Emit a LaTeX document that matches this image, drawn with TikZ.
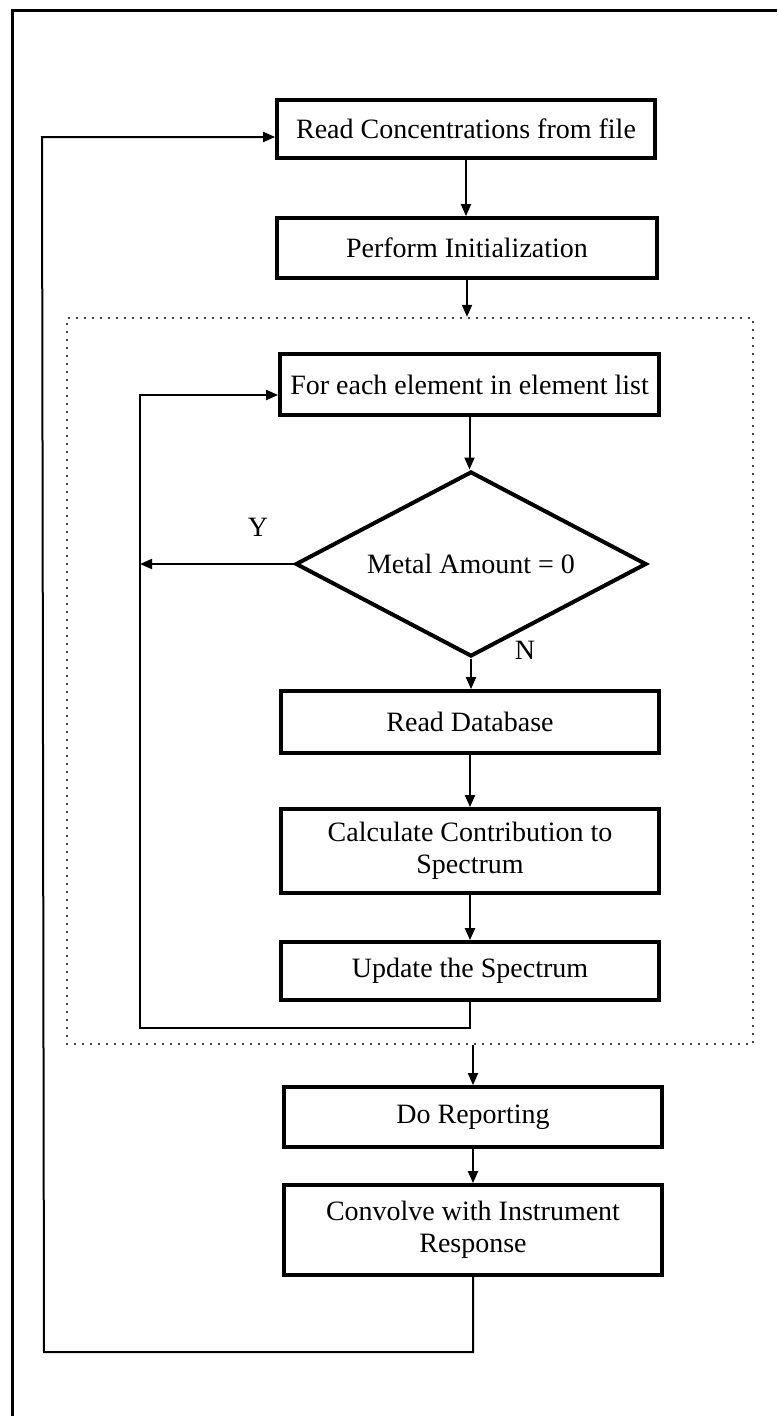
\documentclass[tikz,border=0pt]{standalone}
\usepackage{fontspec}
\setmainfont{Liberation Serif}
\usetikzlibrary{shapes.geometric,arrows.meta}
\begin{document}
\begin{tikzpicture}[x=1pt,y=-1pt,
  txt/.style={font=\fontsize{28}{32}\selectfont},
  box/.style={draw,line width=3.8pt,minimum width=378pt,minimum height=#1,inner sep=2pt,align=center,txt},
  box/.default=60pt,
  dia/.style={diamond,draw,line width=4pt,minimum width=351pt,minimum height=185pt,inner sep=0pt,aspect=1.9,txt},
  grp/.style={draw,line width=2.4pt,dash pattern=on 0pt off 8pt,line cap=round,inner sep=0pt},
  conn/.style={line width=2pt},
  arr/.style={conn,-{Triangle[length=12pt,width=10pt]}},
]
\useasboundingbox (0,0) rectangle (777,1416);
\fill[white] (0,0) rectangle (777,1416);
% outer frame
\draw[line width=3pt] (12,1416) -- (12,10) -- (777,10);
% dotted group
\node[grp,minimum width=686pt,minimum height=726pt] (grp) at (410,681) {};
% nodes
\node[box=58pt] (b1) at (466,129) {Read Concentrations from file};
\node[box=60pt,minimum width=380pt] (b2) at (467,248) {Perform Initialization};
\node[box=61pt,minimum width=379pt] (b3) at (469.5,384.5) {For each element in element list};
\node[dia] (d) at (471,564) {Metal Amount = 0};
\node[box=62pt] (rdb) at (470,722) {Read Database};
\node[box=84pt] (calc) at (470,851) {Calculate Contribution to\\Spectrum};
\node[box=58pt] (upd) at (470,971) {Update the Spectrum};
\node[box=60pt] (rep) at (473,1117) {Do Reporting};
\node[box=90pt] (conv) at (473,1230) {Convolve with Instrument\\Response};
% labels
\node[txt] (ylab) at (258,527) {Y};
\node[txt] (nlab) at (525,650) {N};
% connectors
\draw[arr] (b1.south) -- (b1.south |- b2.north);
\draw[arr] (b2.south) -- (b2.south |- grp.north);
\draw[arr] (b3.south) -- (b3.south |- d.north);
\coordinate (il1) at (140,1028);
\coordinate (il2) at (140,395);
\draw[arr] (d.west) -- (d.west -| il2);
\draw[arr] (d.south) -- (d.south |- rdb.north);
\draw[arr] (rdb.south) -- (calc.north);
\draw[arr] (calc.south) -- (upd.north);
\draw[arr] (upd.south) |- (il1) -- (il2) -- (il2 -| b3.west);
\draw[arr] (grp.south -| rep.north) -- (rep.north);
\draw[arr] (rep.south) -- (conv.north);
\coordinate (ol1) at (44,1352);
\coordinate (ol2) at (42,137);
\draw[arr] (conv.south) |- (ol1) -- (ol2) -- (ol2 -| b1.west);
\end{tikzpicture}
\end{document}
